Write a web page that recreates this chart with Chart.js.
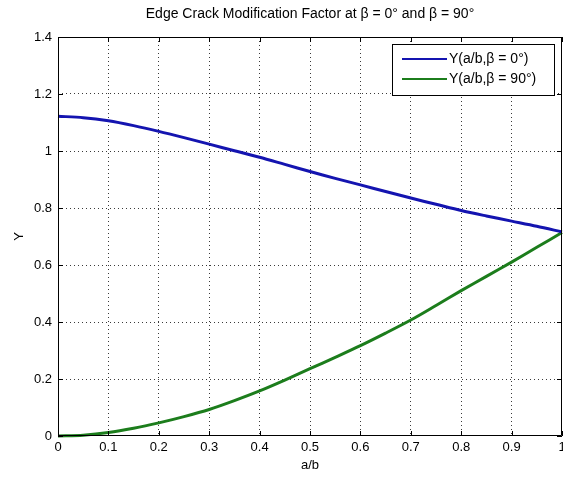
<!DOCTYPE html>
<html>
<head>
<meta charset="utf-8">
<title>Edge Crack Modification Factor</title>
<script src="https://cdn.jsdelivr.net/npm/chart.js@4/dist/chart.umd.min.js"></script>
<style>
  html, body { margin: 0; padding: 0; background: #fff; }
  #wrap { width: 563px; height: 478px; }
</style>
</head>
<body>
<div id="wrap"><canvas id="chart" width="563" height="478"></canvas></div>
<script>
// values
const chartTitle = 'Edge Crack Modification Factor at \u03b2 = 0\u00b0 and \u03b2 = 90\u00b0';
const abRatio = [0, 0.05, 0.1, 0.15, 0.2, 0.25, 0.3, 0.35, 0.4, 0.45, 0.5,
                 0.55, 0.6, 0.65, 0.7, 0.75, 0.8, 0.85, 0.9, 0.95, 1];
const yBeta0 = [1.122, 1.117, 1.106, 1.089, 1.069, 1.047, 1.024, 1.001, 0.978, 0.953, 0.928,
                0.904, 0.881, 0.858, 0.835, 0.813, 0.791, 0.772, 0.754, 0.736, 0.716];
const yBeta90 = [0, 0.003, 0.012, 0.027, 0.046, 0.068, 0.093, 0.124, 0.158, 0.196, 0.236,
                 0.276, 0.317, 0.361, 0.407, 0.458, 0.510, 0.560, 0.610, 0.662, 0.714];
const seriesLabels = ['Y(a/b,\u03b2 = 0\u00b0)', 'Y(a/b,\u03b2 = 90\u00b0)'];
const seriesColors = ['#1414b0', '#1c7d1c'];

const FONT = "'Liberation Sans', Arial, sans-serif";
Chart.defaults.font.family = FONT;
Chart.defaults.color = '#000';

function toPoints(ys) {
    return abRatio.map((x, i) => ({ x: x, y: ys[i] }));
}

// hide grid lines on the box edges, the frame plugin draws those
function gridColor(ctx) {
    const s = ctx.scale;
    const v = ctx.tick ? ctx.tick.value : null;
    if (v === null) return 'rgba(0,0,0,0)';
    if (Math.abs(v - s.min) < 1e-9 || Math.abs(v - s.max) < 1e-9) return 'rgba(0,0,0,0)';
    return '#3a3a3a';
}

// matlab style tick text: 0, 0.2, 1 ...
const tickText = v => String(+Number(v).toFixed(2));

// matlab style box, inward ticks, title and legend
const matlabFrame = {
    id: 'matlabFrame',
    afterDatasetsDraw(chart) {
        const { ctx, chartArea: a, scales } = chart;
        ctx.save();
        ctx.strokeStyle = '#000';
        ctx.lineWidth = 1;
        ctx.beginPath();
        ctx.rect(a.left + 0.5, a.top + 0.5, a.right - a.left - 1, a.bottom - a.top - 1);
        ctx.stroke();
        const len = 5;
        ctx.beginPath();
        scales.x.ticks.forEach(t => {
            const px = Math.round(scales.x.getPixelForValue(t.value)) + 0.5;
            ctx.moveTo(px, a.bottom); ctx.lineTo(px, a.bottom - len);
            ctx.moveTo(px, a.top); ctx.lineTo(px, a.top + len);
        });
        scales.y.ticks.forEach(t => {
            const py = Math.round(scales.y.getPixelForValue(t.value)) + 0.5;
            ctx.moveTo(a.left, py); ctx.lineTo(a.left + len, py);
            ctx.moveTo(a.right, py); ctx.lineTo(a.right - len, py);
        });
        ctx.stroke();
        ctx.restore();
    },
    afterDraw(chart) {
        const { ctx, chartArea: a } = chart;
        ctx.save();
        // title
        ctx.fillStyle = '#000';
        ctx.font = '14px ' + FONT;
        ctx.textAlign = 'center';
        ctx.textBaseline = 'middle';
        ctx.fillText(chartTitle, (a.left + a.right) / 2, 14);

        // legend
        const bw = 162, bh = 51;
        const bx = a.right - 8 - bw, by = a.top + 7;
        ctx.fillStyle = '#fff';
        ctx.fillRect(bx, by, bw, bh);
        ctx.strokeStyle = '#000';
        ctx.lineWidth = 1;
        ctx.strokeRect(bx + 0.5, by + 0.5, bw, bh);
        ctx.textAlign = 'left';
        ctx.font = '14px ' + FONT;
        chart.data.datasets.forEach((ds, i) => {
            const ly = by + 15 + i * 20;
            ctx.strokeStyle = ds.borderColor;
            ctx.lineWidth = 2;
            ctx.beginPath();
            ctx.moveTo(bx + 10, ly);
            ctx.lineTo(bx + 55, ly);
            ctx.stroke();
            ctx.fillStyle = '#000';
            ctx.fillText(ds.label, bx + 57, ly);
        });
        ctx.restore();
    }
};

new Chart(document.getElementById('chart'), {
    type: 'line',
    data: {
        datasets: [
            { label: seriesLabels[0], data: toPoints(yBeta0), borderColor: seriesColors[0] },
            { label: seriesLabels[1], data: toPoints(yBeta90), borderColor: seriesColors[1] }
        ]
    },
    options: {
        responsive: false,
        animation: false,
        layout: { padding: { top: 37, right: 1, left: 0, bottom: 0 } },
        elements: {
            point: { radius: 0 },
            line: { borderWidth: 3, tension: 0.3, fill: false }
        },
        datasets: { line: { clip: 4 } },
        plugins: {
            legend: { display: false },
            title: { display: false },
            tooltip: { enabled: false }
        },
        scales: {
            x: {
                type: 'linear',
                min: 0,
                max: 1,
                ticks: { stepSize: 0.1, padding: 4, font: { size: 13 }, maxRotation: 0, autoSkip: false, callback: tickText },
                grid: { color: gridColor, drawTicks: false, lineWidth: 1 },
                border: { display: false, dash: [1, 3] },
                title: { display: true, text: 'a/b', font: { size: 13 }, padding: { top: 0, bottom: 5 } },
                afterFit: s => { s.paddingLeft = 0; s.paddingRight = 0; s.height = 42; }
            },
            y: {
                min: 0,
                max: 1.4,
                ticks: { stepSize: 0.2, padding: 6, font: { size: 13 }, callback: tickText },
                grid: { color: gridColor, drawTicks: false, lineWidth: 1 },
                border: { display: false, dash: [1, 3] },
                title: { display: true, text: 'Y', font: { size: 13 }, padding: { top: 12, bottom: 0 } },
                afterFit: s => { s.width = 58; }
            }
        }
    },
    plugins: [matlabFrame]
});
</script>
</body>
</html>
